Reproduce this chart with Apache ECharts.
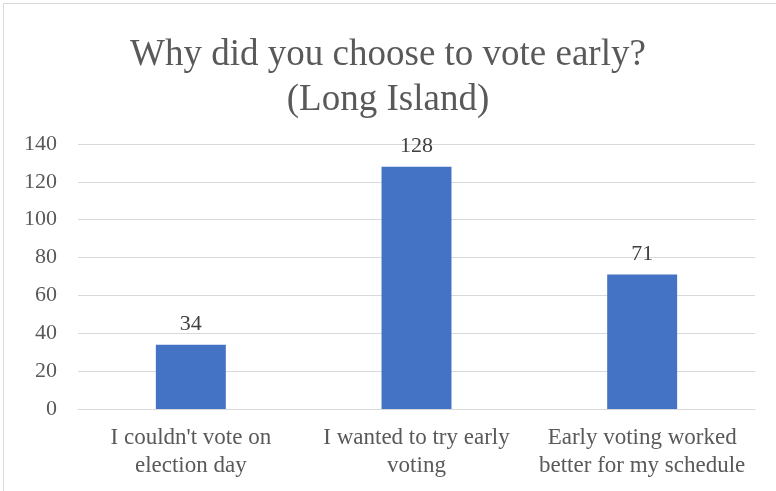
<!DOCTYPE html>
<html><head><meta charset="utf-8">
<script src="https://cdn.jsdelivr.net/npm/echarts@6/dist/echarts.min.js"></script>
<style>html,body{margin:0;padding:0;background:#fff}#c{width:776px;height:491px}</style>
</head><body><div id="c"></div>
<script>
const categories = ["I couldn't vote on\nelection day", "I wanted to try early\nvoting", "Early voting worked\nbetter for my schedule"];
const values = [34, 128, 71];
const yTicks = {min: 0, max: 140, interval: 20};
const titleText = "Why did you choose to vote early?\n(Long Island)";

const chart = echarts.init(document.getElementById('c'), null, {renderer: 'canvas'});
const font = "'Liberation Serif', 'Times New Roman', serif";
chart.setOption({
  animation: false,
  backgroundColor: '#fff',
  graphic: [{type: 'rect', shape: {x: 3.5, y: 3.5, width: 800, height: 520}, style: {fill: 'none', stroke: '#d9d9d9', lineWidth: 1}, silent: true}],
  title: {text: titleText, left: 'center', top: 28, textStyle: {fontFamily: font, fontWeight: 'normal', fontSize: 37, color: '#595959', lineHeight: 45}},
  grid: {left: 78, right: 21, top: 144, bottom: 82, containLabel: false},
  xAxis: {type: 'category', data: categories,
    axisLine: {show: true, lineStyle: {color: '#d9d9d9'}}, axisTick: {show: false},
    axisLabel: {fontFamily: font, fontSize: 23, color: '#595959', margin: 15, lineHeight: 28, interval: 0}},
  yAxis: {type: 'value', min: yTicks.min, max: yTicks.max, interval: yTicks.interval,
    axisLine: {show: false}, axisTick: {show: false},
    splitLine: {lineStyle: {color: '#d9d9d9'}},
    axisLabel: {fontFamily: font, fontSize: 22, color: '#595959', margin: 21}},
  series: [{type: 'bar', data: values, barWidth: '31%', itemStyle: {color: '#4472c4'},
    label: {show: true, position: 'top', distance: 9, fontFamily: font, fontSize: 22, color: '#404040'}}]
});
</script></body></html>
